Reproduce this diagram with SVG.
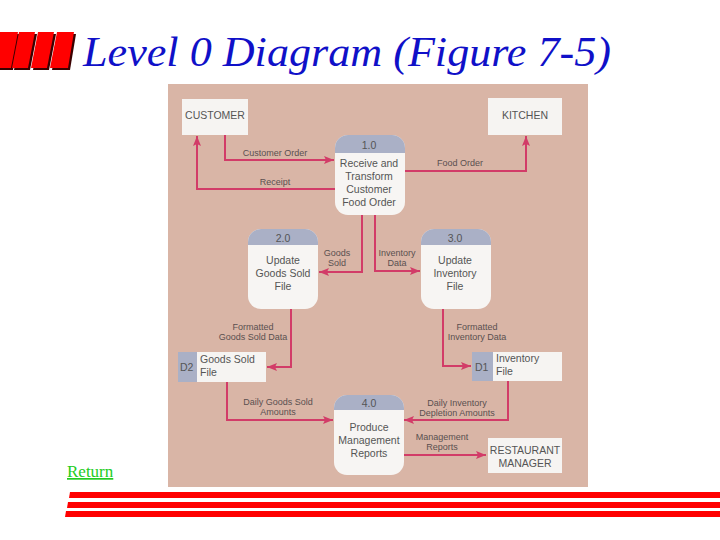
<svg xmlns="http://www.w3.org/2000/svg" width="720" height="540" viewBox="0 0 720 540">
<defs>
<marker id="ah" viewBox="0 0 10 8" refX="10" refY="4" markerWidth="10" markerHeight="8" markerUnits="userSpaceOnUse" orient="auto">
<path d="M0,0 L10,4 L0,8 L2,4 Z" fill="#d23c68"/>
</marker>
<clipPath id="pc"><rect x="0" y="0" width="70" height="80" rx="13"/></clipPath>
</defs>
<style>
.ttl{font-family:"Liberation Serif","Times New Roman",serif;font-style:italic;fill:#1010c8;font-size:42px}
.ret{font-family:"Liberation Serif","Times New Roman",serif;fill:#22cc22;font-size:17px;text-decoration:underline}
.ent{fill:#f6f4f2}
.etx{font-family:"Liberation Sans",Arial,sans-serif;font-size:10.5px;fill:#555;text-anchor:middle}
.hd{fill:#aab0c6}
.bd{fill:#f7f5f3}
.ptx{font-family:"Liberation Sans",Arial,sans-serif;font-size:10.5px;fill:#555;text-anchor:middle}
.lbl{font-family:"Liberation Sans",Arial,sans-serif;font-size:9px;fill:#5a5050;text-anchor:middle}
.fl{fill:none;stroke:#d23c68;stroke-width:2}
.bar{fill:#ff0000}
.sh{fill:#3a0000}
.stx{font-family:"Liberation Sans",Arial,sans-serif;font-size:10.5px;fill:#555}
</style>

<g id="logo">
<polygon class="sh" points="2,34 20,34 13,70 -5,70"/>
<polygon class="bar" points="0,32 18,32 11,68 -7,68"/>
<polygon class="sh" points="21,34 37,34 30,70 14,70"/>
<polygon class="bar" points="19,32 35,32 28,68 12,68"/>
<polygon class="sh" points="40,34 56,34 49,70 33,70"/>
<polygon class="bar" points="38,32 54,32 47,68 31,68"/>
<polygon class="sh" points="59,34 76,34 70,70 52,70"/>
<polygon class="bar" points="57,32 74,32 68,68 50,68"/>
</g>
<text class="ttl" x="83" y="66" textLength="528" lengthAdjust="spacingAndGlyphs">Level 0 Diagram (Figure 7-5)</text>

<rect id="photo" x="168" y="84" width="420" height="403" fill="#d9b5a6"/>

<g id="connectors">
<polyline class="fl" points="225,135 225,160 334,160" marker-end="url(#ah)"/>
<polyline class="fl" points="335,189 197,189 197,136" marker-end="url(#ah)"/>
<polyline class="fl" points="402,171 526,171 526,136" marker-end="url(#ah)"/>
<polyline class="fl" points="362,215 362,272 319,272" marker-end="url(#ah)"/>
<polyline class="fl" points="375,215 375,271 420,271" marker-end="url(#ah)"/>
<polyline class="fl" points="291,308 291,367 267,367" marker-end="url(#ah)"/>
<polyline class="fl" points="443,308 443,366 471,366" marker-end="url(#ah)"/>
<polyline class="fl" points="227,382 227,420 333,420" marker-end="url(#ah)"/>
<polyline class="fl" points="508,381 508,420 404,420" marker-end="url(#ah)"/>
<polyline class="fl" points="403,455 486,455" marker-end="url(#ah)"/>
<text class="lbl" x="275" y="156">Customer Order</text>
<text class="lbl" x="275" y="185">Receipt</text>
<text class="lbl" x="460" y="166">Food Order</text>
<text class="lbl" x="337" y="256">Goods</text>
<text class="lbl" x="337" y="266">Sold</text>
<text class="lbl" x="397" y="256">Inventory</text>
<text class="lbl" x="397" y="266">Data</text>
<text class="lbl" x="253" y="330">Formatted</text>
<text class="lbl" x="253" y="340">Goods Sold Data</text>
<text class="lbl" x="477" y="330">Formatted</text>
<text class="lbl" x="477" y="340">Inventory Data</text>
<text class="lbl" x="278" y="405">Daily Goods Sold</text>
<text class="lbl" x="278" y="415">Amounts</text>
<text class="lbl" x="457" y="406">Daily Inventory</text>
<text class="lbl" x="457" y="416">Depletion Amounts</text>
<text class="lbl" x="442" y="440">Management</text>
<text class="lbl" x="442" y="450">Reports</text>
</g>

<g id="customer">
<rect class="ent" x="182" y="99" width="66" height="36"/>
<text class="etx" x="215" y="119">CUSTOMER</text>
</g>
<g id="kitchen">
<rect class="ent" x="488" y="98" width="74" height="37"/>
<text class="etx" x="525" y="119">KITCHEN</text>
</g>
<g id="manager">
<rect class="ent" x="488" y="438" width="74" height="35"/>
<text class="etx" x="525" y="454">RESTAURANT</text>
<text class="etx" x="525" y="467">MANAGER</text>
</g>

<g id="p1" transform="translate(335,135)">
<g clip-path="url(#pc)">
<rect class="bd" x="0" y="0" width="70" height="80"/>
<rect class="hd" x="0" y="0" width="70" height="18"/>
</g>
<text class="ptx" x="34" y="14">1.0</text>
<text class="ptx" x="34" y="32">Receive and</text>
<text class="ptx" x="34" y="45">Transform</text>
<text class="ptx" x="34" y="58">Customer</text>
<text class="ptx" x="34" y="71">Food Order</text>
</g>
<g id="p2" transform="translate(248,229)">
<g clip-path="url(#pc)">
<rect class="bd" x="0" y="0" width="70" height="80"/>
<rect class="hd" x="0" y="0" width="70" height="16"/>
</g>
<text class="ptx" x="35" y="13">2.0</text>
<text class="ptx" x="35" y="35">Update</text>
<text class="ptx" x="35" y="48">Goods Sold</text>
<text class="ptx" x="35" y="61">File</text>
</g>
<g id="p3" transform="translate(421,229)">
<g clip-path="url(#pc)">
<rect class="bd" x="0" y="0" width="70" height="80"/>
<rect class="hd" x="0" y="0" width="70" height="16"/>
</g>
<text class="ptx" x="34" y="13">3.0</text>
<text class="ptx" x="34" y="35">Update</text>
<text class="ptx" x="34" y="48">Inventory</text>
<text class="ptx" x="34" y="61">File</text>
</g>
<g id="p4" transform="translate(334,395)">
<g clip-path="url(#pc)">
<rect class="bd" x="0" y="0" width="70" height="80"/>
<rect class="hd" x="0" y="0" width="70" height="15"/>
</g>
<text class="ptx" x="35" y="12">4.0</text>
<text class="ptx" x="35" y="36">Produce</text>
<text class="ptx" x="35" y="49">Management</text>
<text class="ptx" x="35" y="62">Reports</text>
</g>

<g id="d2">
<rect class="ent" x="178" y="352" width="88" height="30"/>
<rect class="hd" x="178" y="352" width="19" height="30"/>
<text class="stx" x="180" y="371" font-size="9.5">D2</text>
<text class="stx" x="200" y="363">Goods Sold</text>
<text class="stx" x="200" y="376">File</text>
</g>
<g id="d1">
<rect class="ent" x="472" y="352" width="90" height="29"/>
<rect class="hd" x="472" y="352" width="21" height="29"/>
<text class="stx" x="475" y="371" font-size="9.5">D1</text>
<text class="stx" x="496" y="362">Inventory</text>
<text class="stx" x="496" y="375">File</text>
</g>

<text class="ret" x="67" y="477">Return</text>
<g id="rules">
<polygon class="bar" points="70,492 720,492 720,498 69,498"/>
<polygon class="bar" points="68,502 720,502 720,508 67,508"/>
<polygon class="bar" points="66,511 720,511 720,517 65,517"/>
</g>
</svg>
